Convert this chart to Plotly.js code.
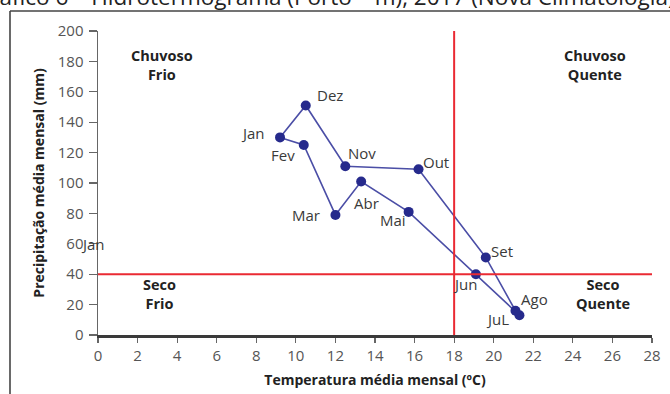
<!DOCTYPE html>
<html>
<head>
<meta charset="utf-8">
<script src="https://cdn.plot.ly/plotly-3.0.1.min.js"></script>
<style>
  html, body { margin: 0; padding: 0; background: #fff; }
  #chart { width: 670px; height: 394px; }
</style>
</head>
<body>
<div id="chart"></div>
<script>
// ---- Data ----
const months = ['Jan', 'Fev', 'Mar', 'Abr', 'Mai', 'Jun', 'Jul', 'Ago', 'Set', 'Out', 'Nov', 'Dez'];
const monthLabels = ['Jan', 'Fev', 'Mar', 'Abr', 'Mai', 'Jun', 'JuL', 'Ago', 'Set', 'Out', 'Nov', 'Dez'];
const temperature = [9.2, 10.4, 12.0, 13.3, 15.7, 19.1, 21.3, 21.1, 19.6, 16.2, 12.5, 10.5];   // °C
const precipitation = [130, 125, 79, 101, 81, 40, 13, 16, 51, 109, 111, 151];               // mm
const tempThreshold = 18;
const precipThreshold = 40;
const quadrantNames = ['Chuvoso<br>Frio', 'Chuvoso<br>Quente', 'Seco<br>Frio', 'Seco<br>Quente'];
const quadrantTemp = [3.25, 25.1, 3.1, 25.5];
const quadrantPrecip = [177.5, 177.5, 27.2, 27];
const xTicks = [0, 2, 4, 6, 8, 10, 12, 14, 16, 18, 20, 22, 24, 26, 28];
const yTicks = [0, 20, 40, 60, 80, 100, 120, 140, 160, 180, 200];
const chartTitle = 'Gráfico 6 – Hidrotermograma (Porto – m), 2017 (Nova Climatologia)';
const xTitle = 'Temperatura média mensal (ºC)';
const yTitle = 'Precipitação média mensal (mm)';

// ---- Presentation ----
const W = 670, H = 394;
const M = { l: 98, r: 18, t: 31, b: 59 };
const pw = W - M.l - M.r, ph = H - M.t - M.b;
const px2paperX = px => (px - M.l) / pw;
const px2paperY = py => (H - M.b - py) / ph;

// label offsets in pixels (dx right, dy down)
const labelOffsets = {
  Jan: [-27, -4], Fev: [-21, 10], Mar: [-29, 0], Abr: [5, 22], Mai: [-16, 8], Jun: [-11, 10],
  Jul: [-22, 4], Ago: [19, -12], Set: [16, -6], Out: [17, -7], Nov: [17, -13], Dez: [24, -10]
};

const loopX = temperature.concat([temperature[0]]);
const loopY = precipitation.concat([precipitation[0]]);

const traces = [
  {
    x: loopX, y: loopY, type: 'scatter', mode: 'lines',
    line: { color: '#4b4ea6', width: 1.6 },
    hoverinfo: 'skip', showlegend: false
  },
  {
    x: temperature, y: precipitation, type: 'scatter', mode: 'markers',
    marker: { color: '#262a8c', size: 10 },
    text: months, showlegend: false
  }
];

const fontFam = '"Open Sans", "Noto Sans", sans-serif';
const annotations = [];
months.forEach((m, i) => {
  const o = labelOffsets[m];
  annotations.push({
    x: temperature[i], y: precipitation[i], xref: 'x', yref: 'y',
    text: monthLabels[i], showarrow: false,
    xshift: o[0], yshift: -o[1],
    font: { family: fontFam, size: 15, color: '#3a3a3a' }
  });
});
// stray label near the y axis
annotations.push({
  x: 0, y: 60, xref: 'x', yref: 'y', text: 'Jan', showarrow: false,
  xshift: -5, yshift: 0,
  font: { family: fontFam, size: 15, color: '#3a3a3a' }
});
quadrantNames.forEach((q, i) => {
  annotations.push({
    x: quadrantTemp[i], y: quadrantPrecip[i], xref: 'x', yref: 'y',
    text: '<b>' + q + '</b>', showarrow: false,
    font: { family: fontFam, size: 14.5, color: '#222' }
  });
});
// cut-off title at the very top
annotations.push({
  x: px2paperX(-28), y: px2paperY(-3), xref: 'paper', yref: 'paper',
  xanchor: 'left', yanchor: 'middle',
  text: chartTitle, showarrow: false,
  font: { family: fontFam, size: 22.5, color: '#222' }
});

const shapes = [
  // threshold lines
  { type: 'line', xref: 'x', yref: 'y', x0: tempThreshold, x1: tempThreshold, y0: 0, y1: yTicks[yTicks.length - 1],
    line: { color: '#ea2a33', width: 2 } },
  { type: 'line', xref: 'x', yref: 'y', x0: 0, x1: xTicks[xTicks.length - 1], y0: precipThreshold, y1: precipThreshold,
    line: { color: '#ea2a33', width: 2 } },
  // frame
  { type: 'line', xref: 'paper', yref: 'paper', x0: px2paperX(10), x1: px2paperX(10), y0: px2paperY(11), y1: px2paperY(400),
    line: { color: '#444', width: 1.6 } },
  { type: 'line', xref: 'paper', yref: 'paper', x0: px2paperX(10), x1: px2paperX(675), y0: px2paperY(11), y1: px2paperY(11),
    line: { color: '#444', width: 1.6 } }
];

const layout = {
  width: W, height: H,
  margin: M,
  paper_bgcolor: '#fff', plot_bgcolor: '#fff',
  showlegend: false,
  font: { family: fontFam, color: '#555' },
  xaxis: {
    range: [0, 28], tickvals: xTicks, ticktext: xTicks.map(String),
    showgrid: false, zeroline: false,
    showline: true, linecolor: '#3a3a3a', linewidth: 2.5,
    ticks: 'outside', ticklen: 5, tickcolor: '#666', tickwidth: 1.2,
    tickfont: { family: fontFam, size: 15, color: '#555' },
    title: { text: '<b>' + xTitle + '</b>', standoff: 12, font: { family: fontFam, size: 14, color: '#222' } }
  },
  yaxis: {
    range: [0, 200], tickvals: yTicks, ticktext: yTicks.map(String),
    showgrid: false, zeroline: false,
    showline: true, linecolor: '#666', linewidth: 1.5,
    ticks: 'outside', ticklen: 8, tickcolor: '#666', tickwidth: 1.2,
    ticklabelstandoff: 2,
    tickfont: { family: fontFam, size: 15, color: '#555' },
    title: { text: '<b>' + yTitle + '</b>', standoff: 10, font: { family: fontFam, size: 14, color: '#222' } }
  },
  annotations: annotations,
  shapes: shapes
};

Plotly.newPlot('chart', traces, layout, { displayModeBar: false, staticPlot: true });
</script>
</body>
</html>
